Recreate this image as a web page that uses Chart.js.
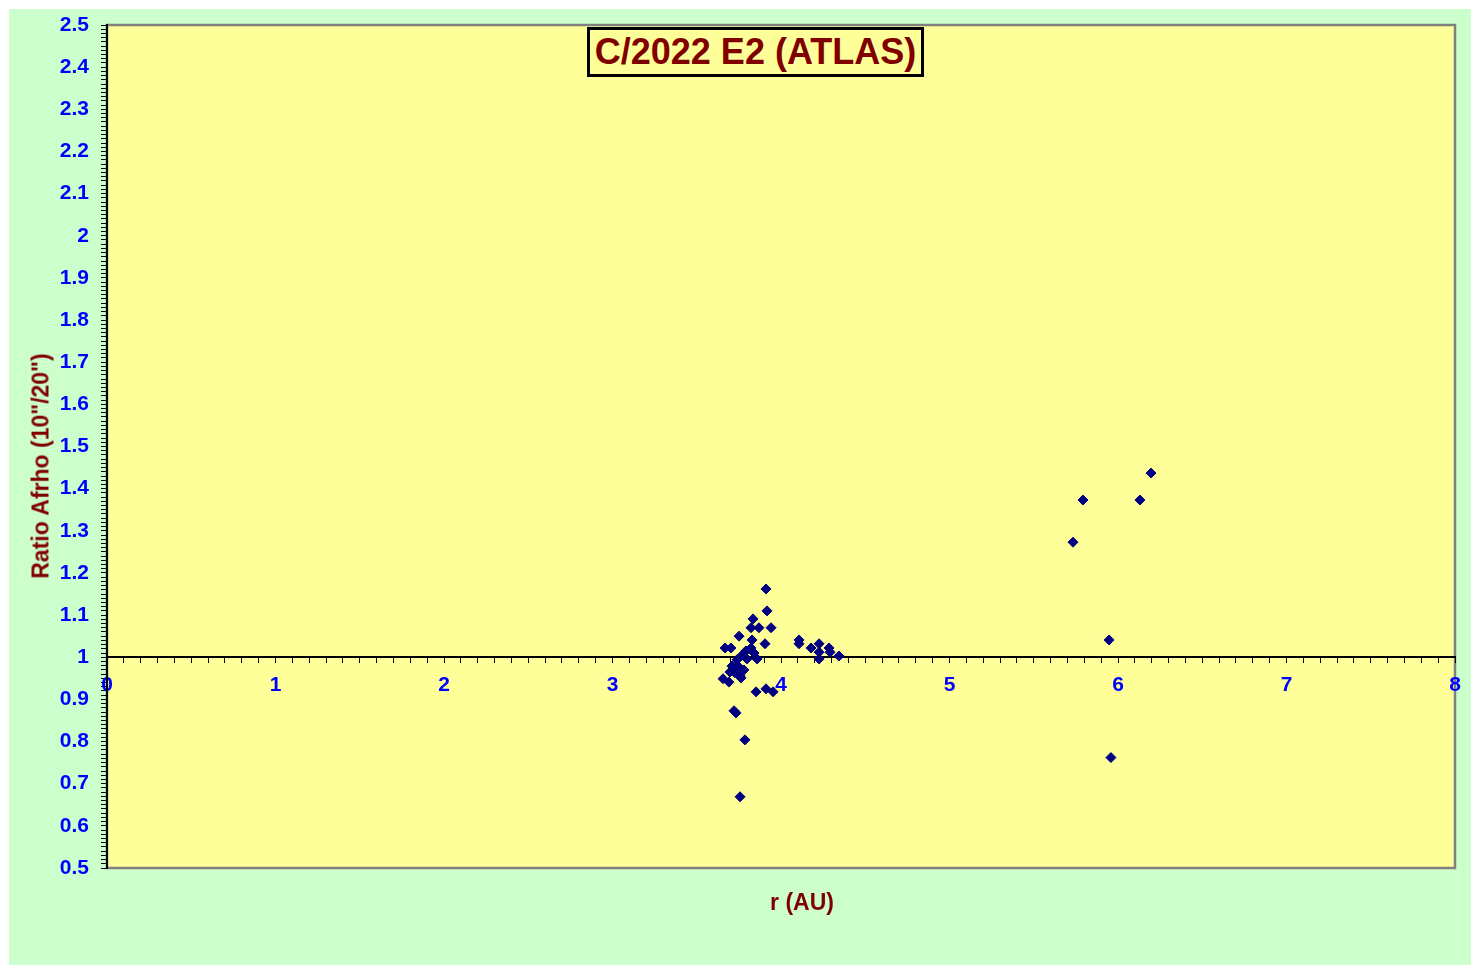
<!DOCTYPE html>
<html>
<head>
<meta charset="utf-8">
<script src="https://cdn.jsdelivr.net/npm/chart.js@4.4.1/dist/chart.umd.min.js"></script>
<style>
  body { margin: 0; background: #ffffff; width: 1480px; height: 973px; position: relative; overflow: hidden; }
  #frame { position: absolute; left: 9px; top: 9px; width: 1462px; height: 956px; background: #ccffcc; }
  .lbl { position: absolute; font-family: 'Liberation Sans', Arial, sans-serif; font-weight: bold; color: #800000; white-space: nowrap; }
  #title { left: 587px; top: 27px; width: 337px; height: 50px; box-sizing: border-box; border: 3px solid #000; background: #ffff99;
           font-size: 36px; line-height: 44px; text-align: center; }
  #ytitle { left: 41px; top: 466px; font-size: 23px; transform: translate(-50%, -50%) rotate(-90deg); }
  #xtitle { left: 802px; top: 902px; font-size: 23px; transform: translate(-50%, -50%); }
</style>
</head>
<body>
<div id="frame"><canvas id="chart"></canvas></div>
<div id="title" class="lbl">C/2022 E2 (ATLAS)</div>
<div id="ytitle" class="lbl">Ratio Afrho (10"/20")</div>
<div id="xtitle" class="lbl">r (AU)</div>
<script>
// heliocentric distance r (AU) and Afrho ratio 10"/20"
var rValues = [
  3.911, 3.917, 3.834, 3.822, 3.869, 3.941, 3.751, 3.828, 3.905, 3.668,
  3.703, 3.792, 3.822, 3.840, 3.769, 4.107, 4.107, 4.178, 4.226, 4.226,
  4.226, 4.285, 4.291, 4.344,
  3.739, 3.798, 3.858, 3.709, 3.733, 3.780, 3.727, 3.757, 3.763, 3.656,
  3.691, 3.697, 3.745, 3.852, 3.911, 3.953, 3.721, 3.733, 3.786, 3.757,
  5.733, 5.792, 6.130, 6.196, 5.947, 5.958
];
var ratioValues = [
  1.162, 1.110, 1.091, 1.070, 1.070, 1.070, 1.050, 1.041, 1.032, 1.022,
  1.022, 1.015, 1.022, 1.010, 1.005, 1.041, 1.032, 1.022, 1.032, 1.012,
  0.996, 1.022, 1.012, 1.003,
  0.994, 0.996, 0.996, 0.979, 0.972, 0.970, 0.963, 0.956, 0.951, 0.949,
  0.941, 0.965, 0.979, 0.918, 0.925, 0.918, 0.873, 0.868, 0.804, 0.669,
  1.273, 1.373, 1.373, 1.437, 1.041, 0.762
];
var xRange = [0, 8];
var yRange = [0.5, 2.5];

var points = rValues.map(function (r, i) {
  return { x: r, y: ratioValues[i] };
});

function isMultiple(v, step) {
  var q = v / step;
  return Math.abs(q - Math.round(q)) < 1e-6;
}

var plotBox = {
  id: 'plotBox',
  beforeDraw: function (chart) {
    var a = chart.chartArea;
    var ctx = chart.ctx;
    ctx.save();
    ctx.fillStyle = '#ffff99';
    ctx.fillRect(a.left, a.top, a.right - a.left, a.bottom - a.top);
    ctx.strokeStyle = '#808080';
    ctx.lineWidth = 2.5;
    ctx.strokeRect(a.left, a.top, a.right - a.left, a.bottom - a.top);
    ctx.restore();
  }
};

var tickFont = { family: "'Liberation Sans', Arial, sans-serif", size: 21, weight: 'bold' };

new Chart(document.getElementById('chart'), {
  type: 'scatter',
  data: {
    datasets: [{
      data: points,
      pointStyle: 'rectRot',
      pointRadius: 5,
      pointHoverRadius: 5,
      borderWidth: 1,
      borderColor: '#000080',
      backgroundColor: '#000080'
    }]
  },
  options: {
    responsive: true,
    maintainAspectRatio: false,
    animation: false,
    layout: { padding: { left: 0, top: 16, right: 16, bottom: 97 } },
    plugins: { legend: { display: false }, tooltip: { enabled: false } },
    scales: {
      x: {
        type: 'linear',
        position: { y: 1 },
        min: xRange[0],
        max: xRange[1],
        afterFit: function (scale) { scale.height = 0; },
        border: { color: '#000000', width: 2 },
        grid: { drawOnChartArea: false, color: '#000000', tickLength: 5, tickWidth: 1 },
        ticks: {
          stepSize: 0.1,
          autoSkip: false,
          maxRotation: 0,
          padding: 10,
          color: '#0000ff',
          font: tickFont,
          callback: function (v) { return isMultiple(v, 1) ? String(Math.round(v)) : ''; }
        }
      },
      y: {
        type: 'linear',
        position: 'left',
        min: yRange[0],
        max: yRange[1],
        afterFit: function (scale) {
          scale.width = 98;
          scale.paddingTop = 0;
          scale.paddingBottom = 0;
        },
        border: { color: '#000000', width: 2 },
        grid: { drawOnChartArea: false, color: '#000000', tickLength: 6, tickWidth: 1 },
        ticks: {
          stepSize: 0.01,
          autoSkip: false,
          padding: 12,
          color: '#0000ff',
          font: tickFont,
          callback: function (v) {
            if (!isMultiple(v, 0.1)) return '';
            return String(Math.round(v * 10) / 10);
          }
        }
      }
    }
  },
  plugins: [plotBox]
});
</script>
</body>
</html>
